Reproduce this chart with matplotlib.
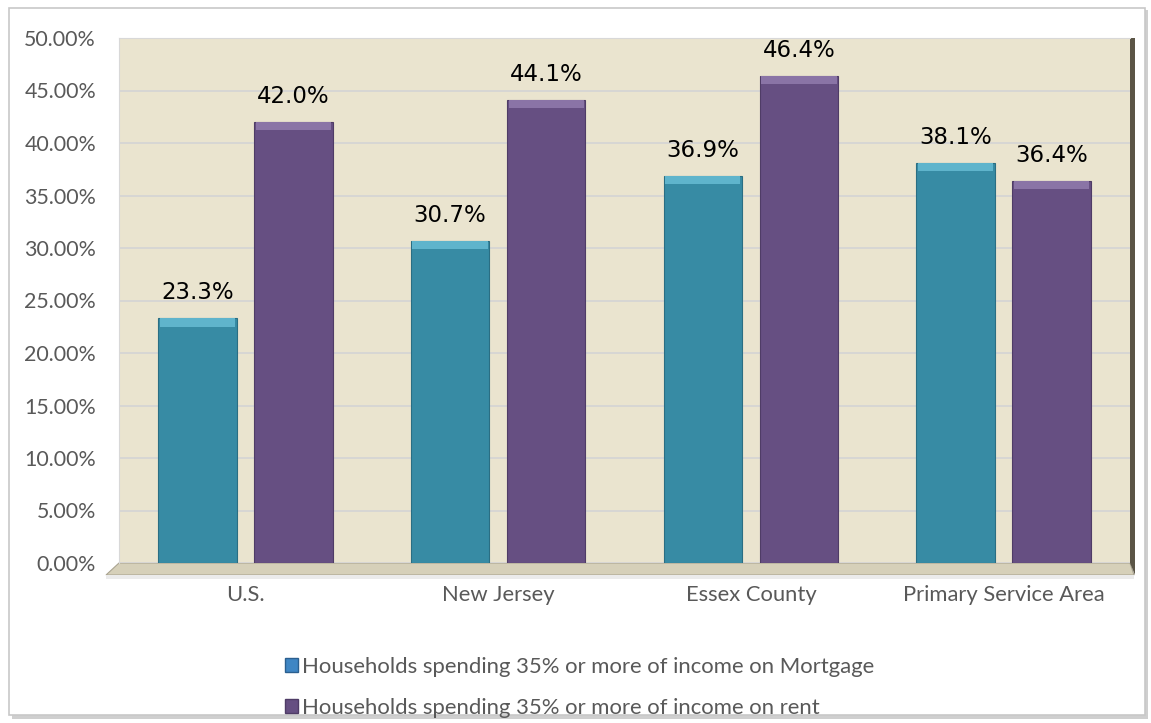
import matplotlib
matplotlib.use('Agg')
import matplotlib.pyplot as plt
import matplotlib.patches as mpatches
from matplotlib.ticker import FuncFormatter
import numpy as np

categories = ['U.S.', 'New Jersey', 'Essex County', 'Primary Service Area']
mortgage = [23.3, 30.7, 36.9, 38.1]
rent = [42.0, 44.1, 46.4, 36.4]
series_names = ['Households spending 35% or more of income on Mortgage',
                'Households spending 35% or more of income on rent']
yticks = np.arange(0, 50.1, 5)

teal = '#378BA4'
purple = '#664F82'
wall = '#EAE4CF'
txt = '#595959'

W, H = 1151, 723
fig = plt.figure(figsize=(W / 100, H / 100), dpi=100)
fig.patch.set_facecolor('white')


def fx(px):
    return px / W


def fy(py):
    return 1 - py / H


# outer chart frame with a soft shadow
fig.patches.append(mpatches.Rectangle((fx(12), fy(719)), fx(1148) - fx(12), fy(10) - fy(719),
                                      transform=fig.transFigure, facecolor='#cfcfcf',
                                      edgecolor='none', zorder=0))
fig.patches.append(mpatches.Rectangle((fx(9), fy(715)), fx(1145) - fx(9), fy(8) - fy(715),
                                      transform=fig.transFigure, facecolor='white',
                                      edgecolor='#c8c8c8', lw=1.2, zorder=0.5))

# floor of the 3d plot area
fig.patches.append(mpatches.Polygon([(fx(106), fy(575)), (fx(1134), fy(575)),
                                     (fx(1130), fy(563)), (fx(119), fy(563))],
                                    closed=True, transform=fig.transFigure,
                                    facecolor='#d6d0b9', edgecolor='#aaa491', lw=0.8, zorder=1))
fig.patches.append(mpatches.Rectangle((fx(106), fy(579)), fx(1134) - fx(106), fy(575) - fy(579),
                                      transform=fig.transFigure, facecolor='#ebebeb',
                                      edgecolor='none', zorder=1))
# right side wall
fig.patches.append(mpatches.Polygon([(fx(1130), fy(38)), (fx(1135), fy(38)),
                                     (fx(1135), fy(575)), (fx(1130), fy(563))],
                                    closed=True, transform=fig.transFigure,
                                    facecolor='#5b5546', edgecolor='none', zorder=1))

ax = fig.add_axes([fx(119), fy(563), fx(1130) - fx(119), fy(38) - fy(563)])
ax.set_facecolor(wall)
ax.set_zorder(2)

x = np.arange(len(categories))
bw = 0.31
off = 0.19

b1 = ax.bar(x - off, mortgage, bw, color=teal, edgecolor='#2a6e83', lw=0.8, zorder=3,
            label=series_names[0])
b2 = ax.bar(x + off, rent, bw, color=purple, edgecolor='#4f3c66', lw=0.8, zorder=3,
            label=series_names[1])

# bevel highlight on the bar tops
cap = 0.8
ax.bar(x - off, [cap] * len(x), bw * 0.96, bottom=np.array(mortgage) - cap,
       color='#5fb4cc', edgecolor='none', zorder=4)
ax.bar(x + off, [cap] * len(x), bw * 0.96, bottom=np.array(rent) - cap,
       color='#8a74a6', edgecolor='none', zorder=4)

for bars, vals in ((b1, mortgage), (b2, rent)):
    for r, v in zip(bars, vals):
        ax.annotate(f'{v:.1f}%', (r.get_x() + r.get_width() / 2, v),
                    xytext=(0, 10), textcoords='offset points', ha='center', va='bottom',
                    fontsize=16.5, color='black', family='DejaVu Sans', zorder=5)

ax.set_xlim(-0.5, len(categories) - 0.5)
ax.set_ylim(0, 50)
ax.set_yticks(yticks)
ax.yaxis.set_major_formatter(FuncFormatter(lambda v, p: f'{v:.2f}%'))
ax.grid(axis='y', color='#d4d4d4', lw=1.2, zorder=0)
ax.set_axisbelow(True)
ax.set_xticks(x)
ax.set_xticklabels(categories)
ax.tick_params(axis='both', length=0, colors=txt)
ax.tick_params(axis='x', pad=15.5, labelsize=15.8)
ax.tick_params(axis='y', pad=16.5, labelsize=15.4)
for lab in ax.get_xticklabels() + ax.get_yticklabels():
    lab.set_family('Lato')
for s in ax.spines.values():
    s.set_visible(False)
ax.spines['top'].set_visible(True)
ax.spines['top'].set_color('#d8d8d8')
ax.spines['left'].set_visible(True)
ax.spines['left'].set_color('#d8d8d8')

handles = [mpatches.Patch(facecolor='#3f86c4', edgecolor='#2b5f8f', label=series_names[0]),
           mpatches.Patch(facecolor=purple, edgecolor='#4f3c66', label=series_names[1])]
leg = fig.legend(handles=handles, loc='upper left', bbox_to_anchor=(fx(276), fy(648)),
                 frameon=False, ncol=1, handlelength=0.6, handleheight=0.6,
                 handletextpad=0.2, labelspacing=0.96, borderaxespad=0,
                 prop={'family': 'Lato', 'size': 15.9})
for t in leg.get_texts():
    t.set_color(txt)

fig.savefig('out.png', dpi=100)
